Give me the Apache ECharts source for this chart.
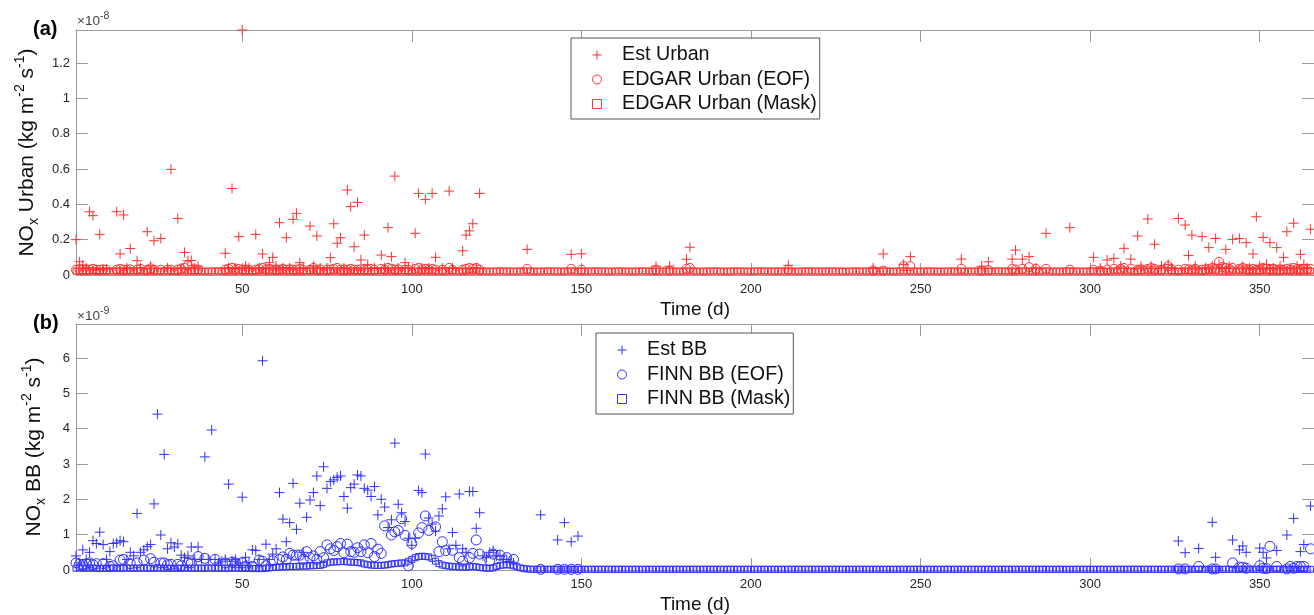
<!DOCTYPE html>
<html><head><meta charset="utf-8">
<script src="https://cdn.jsdelivr.net/npm/echarts@6/dist/echarts.min.js"></script>
<style>html,body{margin:0;padding:0;background:#fff}#c{width:1314px;height:615px}</style>
</head><body><div id="c"></div>
<script>
// Tick labels
const xTicks = [50, 100, 150, 200, 250, 300, 350];
const urbanYTicks = [0, 0.2, 0.4, 0.6, 0.8, 1, 1.2];   // x 1e-8
const bbYTicks = [0, 1, 2, 3, 4, 5, 6];                 // x 1e-9

// Panel (a) values in units of 1e-8 kg m-2 s-1 : [day, value]
const urbanEst = [[1,0.20],[2,0.075],[3,0.057],[4,0.04],[5,0.358],[6,0.336],[7,0.03],[8,0.23],[9,0.03],[10,0.035],
[13,0.358],[14,0.119],[15,0.34],[16,0.04],[17,0.15],[19,0.081],[20,0.04],[22,0.245],[23,0.05],[24,0.194],[26,0.207],
[28,0.04],[29,0.598],[31,0.32],[32,0.04],[33,0.128],[34,0.081],[35,0.082],[36,0.04],[37,0.05],[45,0.123],[46,0.04],
[47,0.49],[48,0.04],[49,0.217],[50,1.387],[51,0.05],[52,0.04],[54,0.23],[55,0.04],[56,0.119],[57,0.04],[58,0.07],
[59,0.10],[60,0.05],[61,0.296],[62,0.04],[63,0.211],[64,0.04],[65,0.315],[66,0.349],[67,0.07],[68,0.04],[70,0.277],
[71,0.05],[72,0.221],[73,0.04],[75,0.04],[76,0.098],[77,0.29],[78,0.18],[79,0.211],[80,0.04],[81,0.481],[82,0.387],
[83,0.16],[84,0.411],[85,0.085],[86,0.226],[87,0.06],[89,0.04],[91,0.113],[92,0.04],[93,0.268],[94,0.104],[95,0.56],
[96,0.04],[98,0.07],[99,0.04],[101,0.236],[102,0.462],[103,0.04],[104,0.428],[105,0.04],[106,0.462],[107,0.10],
[109,0.04],[111,0.475],[112,0.04],[115,0.137],[116,0.226],[117,0.25],[118,0.29],[119,0.04],[120,0.462],[134,0.145],
[147,0.117],[150,0.12],[172,0.05],[176,0.05],[181,0.089],[182,0.157],[211,0.055],[236,0.04],[239,0.119],[245,0.06],
[247,0.104],[262,0.09],[268,0.05],[270,0.075],[277,0.09],[278,0.141],[280,0.09],[282,0.104],[284,0.04],[287,0.236],
[294,0.268],[301,0.10],[303,0.04],[305,0.085],[307,0.094],[309,0.05],[310,0.151],[312,0.09],[314,0.221],[315,0.05],
[317,0.317],[318,0.05],[319,0.174],[321,0.05],[323,0.06],[324,0.04],[326,0.32],[328,0.283],[329,0.11],[330,0.226],
[331,0.05],[333,0.217],[334,0.04],[335,0.155],[336,0.05],[337,0.207],[338,0.06],[339,0.04],[340,0.145],[341,0.05],
[342,0.202],[344,0.207],[345,0.05],[346,0.183],[347,0.04],[348,0.119],[349,0.33],[350,0.05],[351,0.213],[352,0.06],
[353,0.183],[354,0.04],[355,0.155],[356,0.05],[357,0.10],[358,0.245],[359,0.04],[360,0.293],[361,0.05],[362,0.117],
[363,0.06],[364,0.04],[365,0.259]];

const urbanEof = [[1,0.03],[2,0.032],[3,0.03],[4,0.028],[5,0.03],[6,0.035],[7,0.03],[8,0.03],[9,0.032],[10,0.03],
[13,0.03],[14,0.035],[15,0.03],[16,0.03],[17,0.032],[19,0.03],[20,0.035],[22,0.03],[23,0.038],[24,0.03],[26,0.03],
[28,0.03],[29,0.03],[31,0.03],[32,0.035],[33,0.04],[34,0.055],[35,0.03],[36,0.032],[37,0.03],[45,0.03],[46,0.035],
[47,0.04],[48,0.03],[49,0.035],[50,0.03],[51,0.032],[52,0.03],[54,0.03],[55,0.035],[56,0.04],[57,0.03],[58,0.035],
[59,0.03],[60,0.032],[61,0.03],[62,0.035],[63,0.03],[64,0.032],[65,0.03],[66,0.03],[67,0.035],[68,0.03],[70,0.03],
[71,0.04],[72,0.03],[73,0.032],[75,0.03],[76,0.03],[77,0.035],[78,0.04],[79,0.03],[80,0.032],[81,0.03],[82,0.035],
[83,0.03],[84,0.03],[85,0.032],[86,0.03],[87,0.03],[89,0.03],[91,0.035],[92,0.03],[93,0.04],[94,0.035],[95,0.03],
[96,0.032],[98,0.03],[99,0.03],[101,0.035],[102,0.04],[103,0.032],[104,0.035],[105,0.03],[106,0.035],[107,0.03],
[109,0.03],[111,0.04],[112,0.03],[115,0.03],[116,0.035],[117,0.04],[118,0.035],[119,0.04],[120,0.03],[134,0.035],
[147,0.035],[150,0.03],[172,0.03],[176,0.025],[181,0.035],[182,0.04],[211,0.03],[236,0.025],[239,0.025],[245,0.05],
[247,0.05],[262,0.035],[268,0.025],[270,0.028],[277,0.035],[278,0.03],[280,0.035],[282,0.045],[284,0.035],[287,0.035],
[294,0.03],[301,0.03],[303,0.025],[305,0.03],[307,0.035],[309,0.035],[310,0.04],[312,0.035],[314,0.03],[315,0.032],
[317,0.035],[318,0.04],[319,0.035],[321,0.03],[323,0.05],[324,0.032],[326,0.03],[328,0.035],[329,0.032],[330,0.03],
[331,0.035],[333,0.03],[334,0.032],[335,0.035],[336,0.04],[337,0.035],[338,0.075],[339,0.045],[340,0.04],[341,0.035],
[342,0.04],[344,0.035],[345,0.04],[346,0.035],[347,0.03],[348,0.035],[349,0.03],[350,0.032],[351,0.04],[352,0.035],
[353,0.03],[354,0.035],[355,0.03],[356,0.032],[357,0.03],[358,0.035],[359,0.03],[360,0.04],[361,0.035],[362,0.03],
[363,0.035],[364,0.03],[365,0.035]];

// daily values, day 1..365
const urbanMask = [
0.022,0.022,0.021,0.022,0.023, 0.022,0.022,0.021,0.022,0.022, 0.022,0.023,0.022,0.022,0.021, 0.022,0.022,0.022,0.023,0.022, 0.022,0.021,0.022,0.022,0.022,
0.022,0.022,0.023,0.022,0.022, 0.021,0.022,0.022,0.022,0.023, 0.022,0.022,0.022,0.021,0.022, 0.022,0.023,0.022,0.022,0.022, 0.021,0.022,0.022,0.023,0.022,
0.022,0.022,0.021,0.022,0.022, 0.023,0.022,0.022,0.022,0.021, 0.022,0.022,0.023,0.022,0.022, 0.022,0.021,0.022,0.022,0.023, 0.022,0.022,0.022,0.021,0.022,
0.022,0.023,0.022,0.022,0.022, 0.021,0.022,0.022,0.023,0.022, 0.022,0.022,0.021,0.022,0.022, 0.023,0.022,0.022,0.022,0.021, 0.022,0.022,0.023,0.022,0.022,
0.022,0.021,0.022,0.022,0.023, 0.022,0.022,0.022,0.021,0.022, 0.022,0.023,0.022,0.022,0.022, 0.021,0.022,0.022,0.023,0.022, 0.022,0.022,0.021,0.022,0.022,
0.023,0.022,0.022,0.022,0.021, 0.022,0.022,0.023,0.022,0.022, 0.022,0.021,0.022,0.022,0.023, 0.022,0.022,0.022,0.021,0.022, 0.022,0.023,0.022,0.022,0.022,
0.021,0.022,0.022,0.023,0.022, 0.022,0.022,0.021,0.022,0.022, 0.023,0.022,0.022,0.022,0.021, 0.022,0.022,0.023,0.022,0.022, 0.022,0.021,0.022,0.022,0.023,
0.022,0.022,0.022,0.021,0.022, 0.022,0.023,0.022,0.022,0.022, 0.021,0.022,0.022,0.023,0.022, 0.022,0.022,0.021,0.022,0.022, 0.023,0.022,0.022,0.022,0.021,
0.022,0.022,0.023,0.022,0.022, 0.022,0.021,0.022,0.022,0.023, 0.022,0.022,0.022,0.021,0.022, 0.022,0.023,0.022,0.022,0.022, 0.021,0.022,0.022,0.023,0.022,
0.022,0.022,0.021,0.022,0.022, 0.023,0.022,0.022,0.022,0.021, 0.022,0.022,0.023,0.022,0.022, 0.022,0.021,0.022,0.022,0.023, 0.022,0.022,0.022,0.021,0.022,
0.022,0.023,0.022,0.022,0.022, 0.021,0.022,0.022,0.023,0.022, 0.022,0.022,0.021,0.022,0.022, 0.023,0.022,0.022,0.022,0.021, 0.022,0.022,0.023,0.022,0.022,
0.022,0.021,0.022,0.022,0.023, 0.022,0.022,0.022,0.021,0.022, 0.022,0.023,0.022,0.022,0.022, 0.021,0.022,0.022,0.023,0.022, 0.022,0.022,0.021,0.022,0.022,
0.023,0.022,0.022,0.022,0.021, 0.022,0.022,0.023,0.022,0.022, 0.022,0.021,0.022,0.022,0.023, 0.022,0.022,0.022,0.021,0.022, 0.022,0.023,0.022,0.022,0.022,
0.021,0.022,0.022,0.023,0.022, 0.022,0.022,0.021,0.022,0.022, 0.023,0.022,0.022,0.022,0.021, 0.022,0.022,0.023,0.022,0.022, 0.022,0.021,0.022,0.022,0.023,
0.022,0.022,0.022,0.021,0.022, 0.022,0.023,0.022,0.022,0.022, 0.021,0.022,0.022,0.023,0.022];

// Panel (b) values in units of 1e-9 kg m-2 s-1 : [day, value]
const bbEst = [[1,0.4],[2,0.2],[3,0.57],[4,0.3],[5,0.5],[6,0.83],[7,0.75],[8,1.07],[9,0.72],[10,0.3],[11,0.52],[12,0.75],
[13,0.77],[14,0.83],[15,0.8],[16,0.3],[17,0.5],[18,0.4],[19,1.6],[20,0.5],[21,0.57],[22,0.66],[23,0.72],[24,1.87],
[25,4.41],[26,0.99],[27,3.27],[28,0.6],[29,0.77],[30,0.65],[31,0.74],[32,0.42],[33,0.35],[34,0.4],[35,0.65],[36,0.3],
[37,0.65],[38,0.3],[39,3.2],[40,0.3],[41,3.96],[42,0.3],[43,0.2],[44,0.25],[45,0.3],[46,2.43],[47,0.25],[48,0.3],
[49,0.2],[50,2.06],[51,0.36],[52,0.2],[53,0.57],[54,0.55],[55,0.3],[56,5.92],[57,0.73],[58,0.3],[59,0.45],[60,0.6],
[61,2.19],[62,1.44],[63,0.8],[64,1.34],[65,2.45],[66,1.15],[67,1.89],[68,0.5],[69,1.49],[70,1.98],[71,2.19],[72,2.66],
[73,1.82],[74,2.92],[75,2.31],[76,2.5],[77,2.55],[78,2.62],[79,2.66],[80,2.08],[81,1.75],[82,2.33],[83,2.43],[84,2.69],
[85,2.66],[86,2.31],[87,2.26],[88,2.08],[89,2.36],[90,1.56],[91,2.0],[92,1.78],[93,1.2],[94,1.42],[95,3.59],[96,1.86],
[97,1.62],[98,1.37],[99,0.9],[100,0.7],[101,0.9],[102,2.25],[103,2.19],[104,3.28],[105,1.47],[106,1.3],[107,1.1],
[108,1.53],[109,1.73],[110,2.07],[111,0.6],[112,1.06],[113,0.7],[114,2.15],[115,0.6],[116,0.5],[117,2.22],[118,2.22],
[119,1.18],[120,1.62],[121,0.4],[122,0.35],[123,0.5],[124,0.55],[125,0.4],[126,0.4],[127,0.3],[128,0.3],[129,0.25],
[130,0.2],[138,1.56],[143,0.85],[145,1.34],[147,0.8],[149,0.96],[326,0.82],[328,0.49],[332,0.61],[336,1.35],[337,0.36],
[342,0.85],[344,0.57],[345,0.68],[346,0.5],[350,0.62],[351,0.5],[352,0.34],[355,0.55],[358,0.99],[360,1.46],[362,0.52],
[363,0.72],[365,1.81]];

const bbEof = [[1,0.2],[2,0.16],[3,0.15],[4,0.17],[5,0.2],[6,0.15],[7,0.18],[9,0.18],[11,0.1],[12,0.12],[14,0.28],[15,0.3],
[17,0.18],[19,0.2],[21,0.28],[23,0.32],[24,0.22],[26,0.2],[27,0.2],[28,0.15],[29,0.16],[31,0.16],[32,0.12],[34,0.2],
[35,0.2],[37,0.38],[39,0.33],[42,0.3],[45,0.2],[47,0.22],[48,0.2],[50,0.2],[51,0.1],[53,0.1],[55,0.28],[56,0.25],
[57,0.12],[59,0.26],[61,0.3],[62,0.37],[63,0.3],[64,0.47],[65,0.42],[66,0.42],[67,0.42],[68,0.3],[69,0.52],[70,0.35],
[71,0.4],[72,0.3],[73,0.52],[74,0.35],[75,0.71],[76,0.6],[77,0.55],[78,0.66],[79,0.75],[80,0.49],[81,0.73],[82,0.52],
[83,0.5],[84,0.63],[85,0.52],[86,0.71],[87,0.49],[88,0.75],[89,0.38],[90,0.59],[91,0.47],[92,1.25],[94,0.99],[95,1.08],
[96,1.12],[97,1.45],[98,0.98],[99,0.12],[100,0.75],[102,1.05],[103,1.2],[104,1.53],[105,1.12],[107,1.22],[108,0.52],
[109,0.8],[110,0.55],[112,0.56],[114,0.35],[115,0.25],[117,0.35],[118,0.47],[119,0.85],[120,0.45],[123,0.26],[124,0.45],
[126,0.42],[128,0.35],[130,0.3],[138,0.02],[143,0.02],[145,0.02],[147,0.02],[149,0.02],[326,0.03],[328,0.03],[332,0.1],
[336,0.03],[337,0.03],[342,0.2],[344,0.08],[345,0.08],[346,0.05],[350,0.12],[351,0.05],[352,0.04],[353,0.67],[355,0.1],
[358,0.03],[359,0.1],[360,0.05],[361,0.1],[362,0.1],[363,0.1],[365,0.6]];

// daily values, day 1..365
const bbMask = [
0.05,0.06,0.05,0.05,0.06,0.05,0.05,0.04,0.05,0.05,
0.05,0.06,0.05,0.05,0.05,0.06,0.05,0.05,0.05,0.05,
0.06,0.05,0.05,0.05,0.06,0.05,0.05,0.05,0.05,0.05,
0.05,0.05,0.06,0.05,0.05,0.05,0.05,0.05,0.05,0.06,
0.05,0.05,0.05,0.05,0.05,0.05,0.06,0.05,0.05,0.05,
0.05,0.05,0.04,0.04,0.04,0.04,0.05,0.06,0.07,0.08,
0.08,0.09,0.09,0.10,0.10,0.10,0.11,0.11,0.11,0.12,
0.12,0.13,0.13,0.16,0.20,0.22,0.23,0.23,0.24,0.24,
0.23,0.22,0.22,0.21,0.20,0.17,0.15,0.14,0.13,0.13,
0.13,0.14,0.15,0.17,0.18,0.19,0.20,0.20,0.25,0.30,
0.35,0.38,0.39,0.38,0.37,0.33,0.25,0.18,0.14,0.12,
0.11,0.10,0.09,0.09,0.08,0.08,0.09,0.10,0.09,0.07,
0.06,0.05,0.05,0.06,0.10,0.13,0.14,0.15,0.14,0.12,
0.09,0.06,0.04,0.03,0.02,0.02,0.02,0.02,0.02,0.02,
0.02,0.02,0.02,0.02,0.02, 0.02,0.02,0.02,0.02,0.02, 0.02,0.02,0.02,0.02,0.02, 0.02,0.02,0.02,0.02,0.02, 0.02,0.02,0.02,0.02,0.02,
0.02,0.02,0.02,0.02,0.02, 0.02,0.02,0.02,0.02,0.02, 0.02,0.02,0.02,0.02,0.02, 0.02,0.02,0.02,0.02,0.02, 0.02,0.02,0.02,0.02,0.02,
0.02,0.02,0.02,0.02,0.02, 0.02,0.02,0.02,0.02,0.02, 0.02,0.02,0.02,0.02,0.02, 0.02,0.02,0.02,0.02,0.02, 0.02,0.02,0.02,0.02,0.02,
0.02,0.02,0.02,0.02,0.02, 0.02,0.02,0.02,0.02,0.02, 0.02,0.02,0.02,0.02,0.02, 0.02,0.02,0.02,0.02,0.02, 0.02,0.02,0.02,0.02,0.02,
0.02,0.02,0.02,0.02,0.02, 0.02,0.02,0.02,0.02,0.02, 0.02,0.02,0.02,0.02,0.02, 0.02,0.02,0.02,0.02,0.02, 0.02,0.02,0.02,0.02,0.02,
0.02,0.02,0.02,0.02,0.02, 0.02,0.02,0.02,0.02,0.02, 0.02,0.02,0.02,0.02,0.02, 0.02,0.02,0.02,0.02,0.02, 0.02,0.02,0.02,0.02,0.02,
0.02,0.02,0.02,0.02,0.02, 0.02,0.02,0.02,0.02,0.02, 0.02,0.02,0.02,0.02,0.02, 0.02,0.02,0.02,0.02,0.02, 0.02,0.02,0.02,0.02,0.02,
0.02,0.02,0.02,0.02,0.02, 0.02,0.02,0.02,0.02,0.02, 0.02,0.02,0.02,0.02,0.02, 0.02,0.02,0.02,0.02,0.02, 0.02,0.02,0.02,0.02,0.02,
0.02,0.02,0.02,0.02,0.02, 0.02,0.02,0.02,0.02,0.02, 0.02,0.02,0.02,0.02,0.02, 0.02,0.02,0.02,0.02,0.02, 0.02,0.02,0.02,0.02,0.02];

const FONT = '"Liberation Sans", Arial, Helvetica, sans-serif';
const RED = '#ff3030', BLUE = '#3030ff', AXIS = '#9a9a9a';
const PLUS = 'path://M5,0L5,10M0,5L10,5';
const SQUARE = 'path://M0,0L10,0L10,10L0,10Z';

const daily = arr => arr.map((v, i) => [i + 1, v]);

function xAx(grid, pos) {
  return {
    type: 'value', gridIndex: grid, position: pos, min: 1, max: 366,
    name: pos === 'bottom' ? 'Time (d)' : '', nameLocation: 'middle', nameGap: 25,
    nameTextStyle: {fontFamily: FONT, fontSize: 19, color: '#111', lineHeight: 19},
    axisLine: {show: true, onZero: false, lineStyle: {color: AXIS, width: 1}},
    axisTick: {show: true, inside: true, length: 12, customValues: xTicks, lineStyle: {color: AXIS}},
    axisLabel: {show: pos === 'bottom', customValues: xTicks, fontFamily: FONT, fontSize: 13, color: '#262626', margin: 8},
    splitLine: {show: false}
  };
}
function yAx(grid, pos, max, ticks, name) {
  return {
    type: 'value', gridIndex: grid, position: pos, min: 0, max: max,
    name: pos === 'left' ? name : '', nameLocation: 'middle', nameGap: 28,
    nameTextStyle: {fontFamily: FONT, fontSize: 21, color: '#111', lineHeight: 28,
      rich: {sub: {fontFamily: FONT, fontSize: 14, lineHeight: 14, verticalAlign: 'bottom', color: '#111'},
             sup: {fontFamily: FONT, fontSize: 14, lineHeight: 14, verticalAlign: 'top', color: '#111'}}},
    axisLine: {show: true, onZero: false, lineStyle: {color: AXIS, width: 1}},
    axisTick: {show: true, inside: true, length: 12, customValues: ticks, lineStyle: {color: AXIS}},
    axisLabel: {show: pos === 'left', customValues: ticks, fontFamily: FONT, fontSize: 13, color: '#262626', margin: 6},
    splitLine: {show: false}
  };
}
function sc(name, data, grid, symbol, size, color) {
  return {
    type: 'scatter', name: name, data: data, xAxisIndex: grid * 2, yAxisIndex: grid * 2,
    symbol: symbol, symbolSize: size, symbolKeepAspect: true, clip: false,
    itemStyle: {color: 'transparent', borderColor: color, borderWidth: 1, opacity: 1},
    emphasis: {disabled: true}, silent: true
  };
}
function leg(names, left, top) {
  return {
    data: names, orient: 'vertical', left: left, top: top,
    padding: [7, 3, 5, 21], itemWidth: 40, itemHeight: 9, itemGap: 4.5,
    selectedMode: false, borderColor: '#555', borderWidth: 1, borderRadius: 0, backgroundColor: '#fff',
    itemStyle: {borderWidth: 1},
    textStyle: {fontFamily: FONT, fontSize: 19.7, color: '#111', lineHeight: 20}
  };
}

const chart = echarts.init(document.getElementById('c'), null, {renderer: 'canvas'});
chart.setOption({
  animation: false,
  backgroundColor: '#fff',
  grid: [
    {left: 76, top: 30, width: 1241, height: 245},
    {left: 76, top: 324, width: 1241, height: 246}
  ],
  xAxis: [xAx(0, 'bottom'), xAx(0, 'top'), xAx(1, 'bottom'), xAx(1, 'top')],
  yAxis: [
    yAx(0, 'left', 1.387, urbanYTicks, 'NO{sub|x} Urban (kg m{sup|-2} s{sup|-1})'),
    yAx(0, 'right', 1.387, urbanYTicks, ''),
    yAx(1, 'left', 6.96, bbYTicks, 'NO{sub|x} BB (kg m{sup|-2} s{sup|-1})'),
    yAx(1, 'right', 6.96, bbYTicks, '')
  ],
  legend: [
    leg(['Est Urban', 'EDGAR Urban (EOF)', 'EDGAR Urban (Mask)'], 571, 38),
    leg(['Est BB', 'FINN BB (EOF)', 'FINN BB (Mask)'], 596, 333)
  ],
  graphic: [
    {type: 'text', x: 33, y: 19, style: {text: '(a)', font: 'bold 20px ' + FONT, fill: '#000'}},
    {type: 'text', x: 33, y: 313, style: {text: '(b)', font: 'bold 20px ' + FONT, fill: '#000'}},
    {type: 'text', x: 77, y: 11, style: {text: '{b|×10}{s|-8}', rich: {
      b: {fontFamily: FONT, fontSize: 13.5, lineHeight: 17, verticalAlign: 'bottom', fill: '#444'},
      s: {fontFamily: FONT, fontSize: 10.5, lineHeight: 10, verticalAlign: 'top', fill: '#444'}}}},
    {type: 'text', x: 77, y: 306, style: {text: '{b|×10}{s|-9}', rich: {
      b: {fontFamily: FONT, fontSize: 13.5, lineHeight: 17, verticalAlign: 'bottom', fill: '#444'},
      s: {fontFamily: FONT, fontSize: 10.5, lineHeight: 10, verticalAlign: 'top', fill: '#444'}}}}
  ],
  series: [
    sc('Est Urban', urbanEst, 0, PLUS, 10, RED),
    sc('EDGAR Urban (EOF)', urbanEof, 0, 'circle', 9, RED),
    sc('EDGAR Urban (Mask)', daily(urbanMask), 0, SQUARE, 6, RED),
    sc('Est BB', bbEst, 1, PLUS, 10, BLUE),
    sc('FINN BB (EOF)', bbEof, 1, 'circle', 10, BLUE),
    sc('FINN BB (Mask)', daily(bbMask), 1, SQUARE, 6, BLUE)
  ]
});
</script></body></html>
